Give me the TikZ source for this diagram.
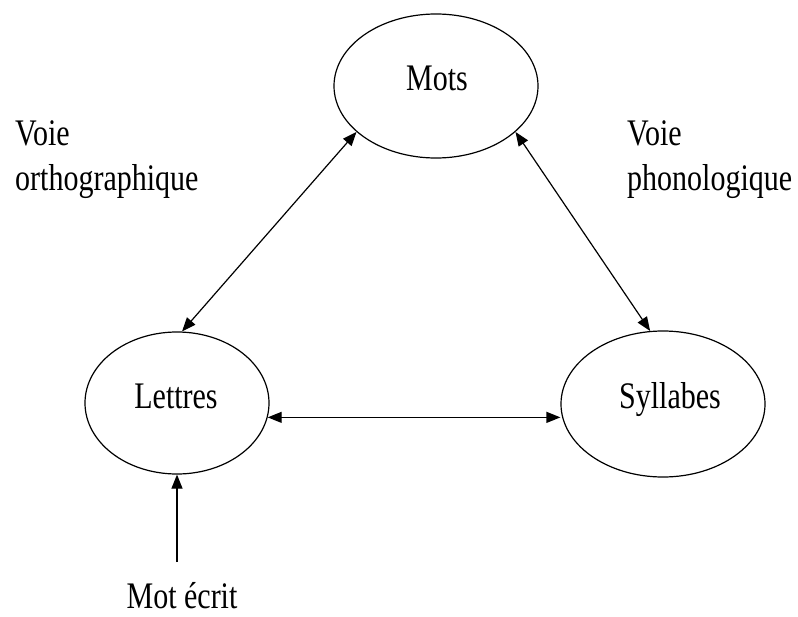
\documentclass[tikz,border=0pt]{standalone}
\usepackage{fontspec}
\setmainfont{Liberation Serif}
\usetikzlibrary{shapes.geometric,arrows.meta}
\begin{document}
\begin{tikzpicture}[x=1pt,y=-1pt,
  oval/.style={draw,ellipse,line width=1.2pt,inner sep=0pt},
  lbl/.style={font=\fontsize{30}{36}\selectfont,inner sep=0pt},
  conn/.style={line width=1.2pt,{Triangle[length=14pt,width=11pt]}-{Triangle[length=14pt,width=11pt]}},
  conn1/.style={line width=1.2pt,-{Triangle[length=14pt,width=11pt]}}]
\useasboundingbox (0,0) rectangle (798,616);
\node[oval,minimum width=204pt,minimum height=144pt] (mots) at (436,86) {};
\node[oval,minimum width=184pt,minimum height=142pt] (lettres) at (177,403) {};
\node[oval,minimum width=204pt,minimum height=146pt] (syll) at (663,404) {};
\node[lbl,anchor=base] (motsT) at (437,90) {\scalebox{1}[1.25]{Mots}};
\node[lbl,anchor=base] (lettresT) at (176,408) {\scalebox{1}[1.25]{Lettres}};
\node[lbl,anchor=base] (syllT) at (670,408) {\scalebox{1}[1.25]{Syllabes}};
\node[lbl,anchor=base west] (voieO1) at (15,145) {\scalebox{1}[1.25]{Voie}};
\node[lbl,anchor=base west] (voieO2) at (15,190) {\scalebox{1}[1.25]{orthographique}};
\node[lbl,anchor=base west] (voieP1) at (627,145) {\scalebox{1}[1.25]{Voie}};
\node[lbl,anchor=base west] (voieP2) at (627,190) {\scalebox{1}[1.25]{phonologique}};
\node[lbl,anchor=base] (motecrit) at (182,608) {\scalebox{1}[1.25]{Mot écrit}};
\coordinate (tail) at (177,562);
\draw[conn] (mots.210) -- (lettres.86);
\draw[conn] (mots.330) -- (syll.100);
\draw[conn] (lettres.351) -- (lettres.351 -| syll.west);
\draw[conn1] (tail) -- (lettres.south);
\end{tikzpicture}
\end{document}
